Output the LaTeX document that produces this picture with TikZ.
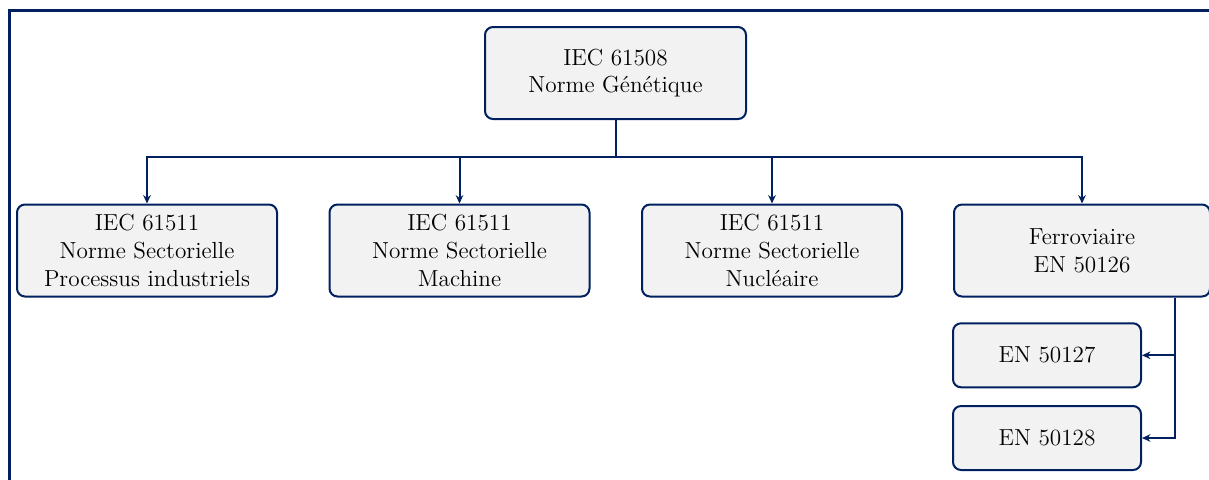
\documentclass[tikz,border=0pt]{standalone}
\usetikzlibrary{arrows.meta}
\definecolor{navy}{RGB}{0,32,96}
\definecolor{boxfill}{RGB}{242,242,242}
\begin{document}
\begin{tikzpicture}[x=0.5pt,y=-0.5pt,
  stdbox/.style={draw=navy, line width=1pt, fill=boxfill, rounded corners=4pt,
    align=center, inner sep=0pt, font=\fontsize{11.6}{13.9}\selectfont,
    minimum width=130pt, minimum height=46pt},
  subbox/.style={stdbox, minimum width=94pt, minimum height=32pt},
  link/.style={draw=navy, line width=1pt},
  arr/.style={link, -{Stealth[length=4.2pt,width=3.8pt]}},
  frame/.style={draw=navy, line width=1.4pt}]
\useasboundingbox (0,0) rectangle (1209,479);

% outer frame (top and left edges)
\draw[frame] (9.5,490) -- (9.5,10.5) -- (1220,10.5);

% generic standard
\node[stdbox, minimum width=130.5pt] (gen) at (615.5,73) {IEC 61508\\Norme Génétique};

% sector standards
\node[stdbox] (proc) at (147,250.5) {IEC 61511\\Norme Sectorielle\\Processus industriels};
\node[stdbox] (mach) at (459.5,250.5) {IEC 61511\\Norme Sectorielle\\Machine};
\node[stdbox] (nucl) at (772,250.5) {IEC 61511\\Norme Sectorielle\\Nucléaire};
\node[stdbox, minimum width=128pt] (rail) at (1082,250.5) {Ferroviaire\\EN 50126};

% railway sub-standards
\node[subbox] (en127) at (1047,355.3) {EN 50127};
\node[subbox] (en128) at (1047,438) {EN 50128};

% tree links
\coordinate (bus) at (615.5,157);
\draw[link] (gen.south) -- (bus);
\draw[arr] (bus) -| (proc.north);
\draw[arr] (bus) -| (mach.north);
\draw[arr] (bus) -| (nucl.north);
\draw[arr] (bus) -| (rail.north);

\coordinate (trunk) at (1175,438);
\draw[arr] (rail.south -| trunk) -- (trunk) -- (en128.east);
\draw[arr] (en127.east -| trunk) -- (en127.east);
\end{tikzpicture}
\end{document}
